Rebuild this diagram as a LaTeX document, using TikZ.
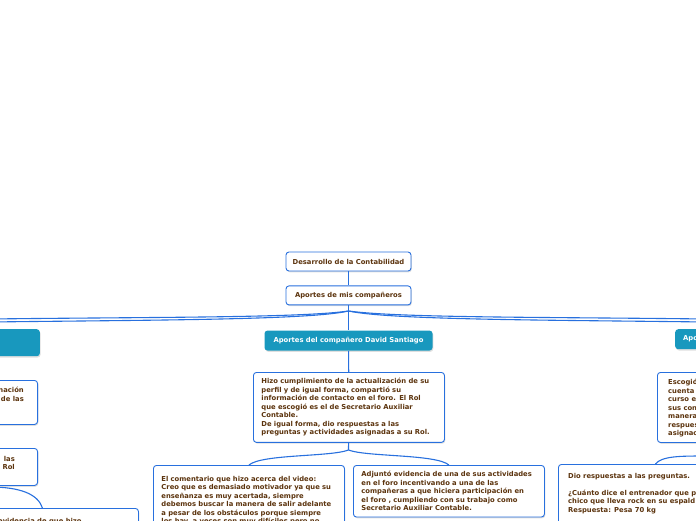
\documentclass[tikz,border=0pt]{standalone}
\usepackage{fontspec}
\setmainfont{DejaVu Sans}
\usepackage{xcolor}
\usepackage{tikz}
\usetikzlibrary{positioning,shadows}

\definecolor{mapblue}{RGB}{40,112,222}
\definecolor{mapteal}{RGB}{24,152,190}
\definecolor{maptext}{RGB}{92,52,14}

\begin{document}
\begin{tikzpicture}[
  x=1pt, y=-1pt,
  node distance=14pt,
  box/.style={draw=mapblue, line width=0.9pt, rounded corners=3pt, fill=white,
    text=maptext, font=\bfseries\fontsize{6.8}{8.5}\selectfont,
    drop shadow={opacity=0.25, shadow xshift=0.8pt, shadow yshift=-1.3pt}},
  topic/.style={box, minimum width=125pt, minimum height=19pt, inner sep=2pt},
  member/.style={draw=none, rounded corners=3pt, fill=mapteal, text=white,
    font=\bfseries\fontsize{6.8}{8.5}\selectfont, minimum height=20pt,
    drop shadow={opacity=0.25, shadow xshift=0.8pt, shadow yshift=-1.3pt}},
  note/.style={box, anchor=north west, text width=175pt, align=left,
    inner xsep=8pt, inner ysep=6pt},
  frag/.style={text=maptext, font=\bfseries\fontsize{6.8}{8.5}\selectfont, inner sep=0pt},
  link/.style={draw=mapblue, line width=1.1pt},
]
\useasboundingbox (0,0) rectangle (696,520);
\clip (0,0) rectangle (696,520);

% main column
\node[topic] (des) at (348.5,261.5) {Desarrollo de la Contabilidad};
\node[topic, below=of des] (apo) {Aportes de mis compa\~neros};
\node[member, minimum width=168pt, below=25pt of apo] (dav) {Aportes del compa\~nero David Santiago};
\node[note, text width=175pt] (cum) at (253,372) {Hizo cumplimiento de la actualizaci\'on de su\\
perfil y de igual forma, comparti\'o su\\
informaci\'on de contacto en el foro. El Rol\\
que escogi\'o es el de Secretario Auxiliar\\
Contable.\\
De igual forma, dio respuestas a las\\
preguntas y actividades asignadas a su Rol.};
\node[note, minimum height=70pt] (com) at (153,465) {El comentario que hizo acerca del video:\\
Creo que es demasiado motivador ya que su\\
ense\~nanza es muy acertada, siempre\\
debemos buscar la manera de salir adelante\\
a pesar de los obst\'aculos porque siempre\\
los hay, a veces son muy dif\'iciles pero no};
\node[note] (adj) at (353,465) {Adjunt\'o evidencia de una de sus actividades\\
en el foro incentivando a una de las\\
compa\~neras a que hiciera participaci\'on en\\
el foro , cumpliendo con su trabajo como\\
Secretario Auxiliar Contable.};

% left branch (cut by the page edge)
\node[member, anchor=north east, minimum width=120pt, minimum height=27pt] (lmem) at (40,329) {};
\node[box, anchor=north east, minimum width=120pt, minimum height=44pt] (lone) at (38,380) {};
\node[frag, anchor=north east, align=right] (lonet) at (24,387) {naci\'on\\de las};
\node[box, anchor=north east, minimum width=120pt, minimum height=37pt] (ltwo) at (38,448) {};
\node[frag, anchor=north east, align=right] (ltwot) at (15,456) {las\\Rol};
\node[box, anchor=north west, minimum width=192pt, minimum height=40pt] (lthree) at (-54,508) {};
\node[frag, anchor=north west] (lthreet) at (-2,518) {evidencia de que hizo};

% right branch (cut by the page edge)
\node[member, anchor=north west, minimum width=168pt] (rmem) at (675,329) {};
\node[frag, anchor=west, text=white] (rmemt) at (683,338.5) {Apo};
\node[box, anchor=north west, minimum width=190pt, minimum height=70pt] (rone) at (657,372) {};
\node[frag, anchor=north west, align=left] (ronet) at (668,379) {Escogi\'o\\cuenta\\curso e\\sus con\\manera\\respues\\asignac};
\node[box, anchor=north west, minimum width=194pt, minimum height=60pt] (rtwo) at (558,464) {};
\node[frag, anchor=north west, align=left] (rtwot) at (568,473) {Dio respuestas a las preguntas.\\[8.5pt]
\textquestiondown Cu\'anto dice el entrenador que p\\chico que lleva rock en su espald\\Respuesta: Pesa 70 kg};

% connectors
\coordinate (hub) at (348.5,311);
\coordinate (offla) at (-10,319);
\coordinate (offlb) at (-10,322);
\coordinate (offra) at (706,319);
\coordinate (offrb) at (706,322);
\coordinate (fork) at (348.5,450);
\coordinate (offl) at (-10,487);
\coordinate (offr) at (706,456);

\draw[link] (des) -- (apo);
\draw[link] (apo) -- (dav);
\draw[link] (dav) -- (cum);
\draw[link] (hub) .. controls (300,318) and (150,317) .. (offla);
\draw[link] (hub) .. controls (310,320) and (150,320) .. (offlb);
\draw[link] (hub) .. controls (400,318) and (550,317) .. (offra);
\draw[link] (hub) .. controls (390,320) and (550,320) .. (offrb);
\draw[link] (cum) -- (fork);
\draw[link] (fork) .. controls (330,457) and (262,454) .. (com.north);
\draw[link] (fork) .. controls (367,457) and (436,454) .. (adj.north);
\draw[link] (offl) .. controls (20,487) and (38,494) .. (lthree.north);
\draw[link] (offr) .. controls (680,456) and (662,456) .. (rtwo.north);
\end{tikzpicture}
\end{document}
